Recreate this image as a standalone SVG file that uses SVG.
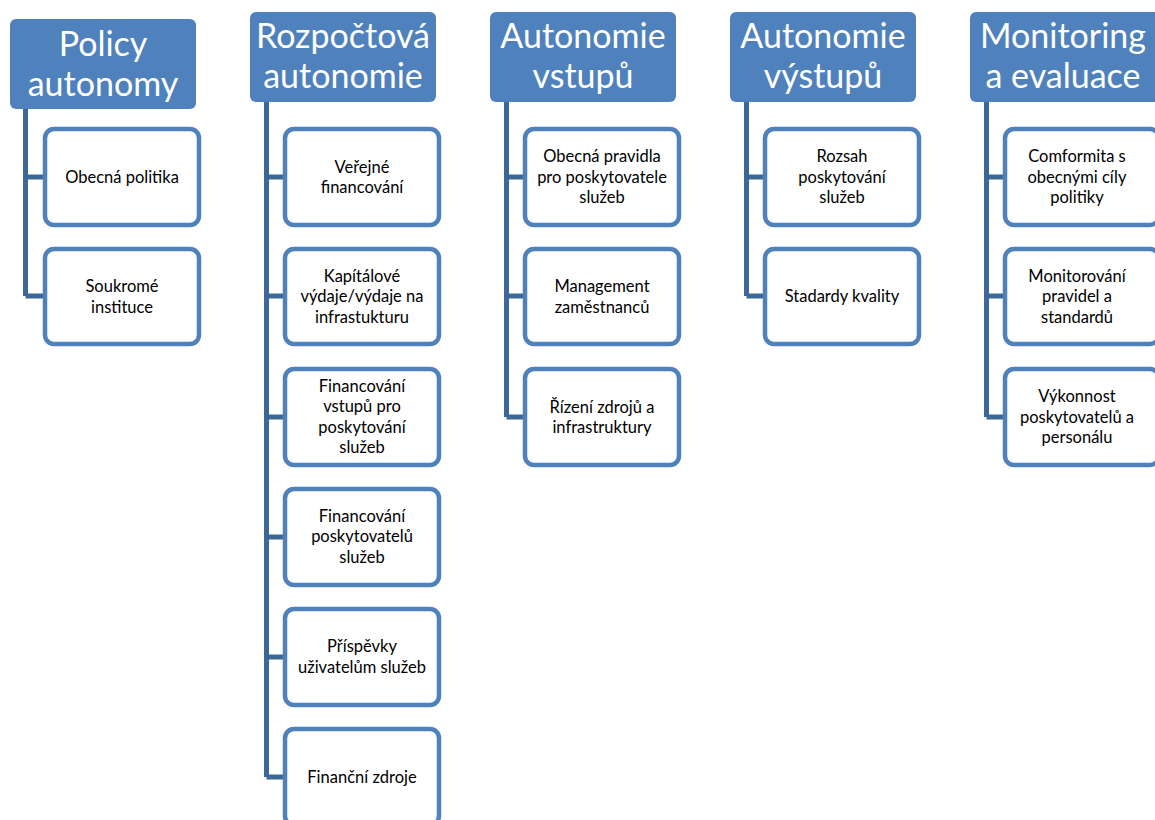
<svg xmlns="http://www.w3.org/2000/svg" width="1155" height="820" viewBox="0 0 1155 820">
  <style>
    .hdr { fill: #4f81bd; }
    .hdr-t { fill: #ffffff; font-family: Lato, "Open Sans", sans-serif; font-size: 34px; text-anchor: middle; }
    .box { fill: #ffffff; stroke: #4f81bd; stroke-width: 4.5; }
    .box-t { fill: #000000; font-family: Lato, "Open Sans", sans-serif; font-size: 16.5px; text-anchor: middle; }
    .conn { fill: none; stroke: #3d6797; stroke-width: 5; stroke-linejoin: round; }
  </style>

  <rect width="1155" height="820" fill="#ffffff"/>

  <!-- connectors: a trunk under each header with a branch to every child -->
  <g id="connectors">
    <path class="conn" d="M25.5 109 V296 M25.5 177 H45 M25.5 296 H45"/>
    <path class="conn" d="M266.5 102 V777 M266.5 177 H285 M266.5 296 H285 M266.5 417 H285 M266.5 537 H285 M266.5 657 H285 M266.5 777 H285"/>
    <path class="conn" d="M506.5 102 V417 M506.5 177 H525 M506.5 296 H525 M506.5 417 H525"/>
    <path class="conn" d="M746.5 102 V296 M746.5 177 H765 M746.5 296 H765"/>
    <path class="conn" d="M986.5 102 V417 M986.5 177 H1005 M986.5 296 H1005 M986.5 417 H1005"/>
  </g>

  <!-- column 1 -->
  <g id="policy-autonomy">
    <rect class="hdr" x="10" y="19" width="186" height="90" rx="6"/>
    <text class="hdr-t" x="103" y="56">Policy</text>
    <text class="hdr-t" x="103" y="96">autonomy</text>
  </g>
  <g id="obecna-politika">
    <rect class="box" x="45" y="129" width="154" height="96" rx="9"/>
    <text class="box-t" x="122" y="183">Obecná politika</text>
  </g>
  <g id="soukrome-instituce">
    <rect class="box" x="45" y="249" width="154" height="95" rx="9"/>
    <text class="box-t" x="122" y="292">Soukromé</text>
    <text class="box-t" x="122" y="313">instituce</text>
  </g>

  <!-- column 2 -->
  <g id="rozpoctova-autonomie">
    <rect class="hdr" x="250" y="12" width="186" height="90" rx="6"/>
    <text class="hdr-t" x="343" y="48">Rozpočtová</text>
    <text class="hdr-t" x="343" y="88">autonomie</text>
  </g>
  <g id="verejne-financovani">
    <rect class="box" x="285" y="129" width="154" height="96" rx="9"/>
    <text class="box-t" x="362" y="173">Veřejné</text>
    <text class="box-t" x="362" y="193">financování</text>
  </g>
  <g id="kapitalove-vydaje">
    <rect class="box" x="285" y="249" width="154" height="95" rx="9"/>
    <text class="box-t" x="362" y="282">Kapítálové</text>
    <text class="box-t" x="362" y="302">výdaje/výdaje na</text>
    <text class="box-t" x="362" y="323">infrastukturu</text>
  </g>
  <g id="financovani-vstupu">
    <rect class="box" x="285" y="369" width="154" height="96" rx="9"/>
    <text class="box-t" x="362" y="392">Financování</text>
    <text class="box-t" x="362" y="412">vstupů pro</text>
    <text class="box-t" x="362" y="433">poskytování</text>
    <text class="box-t" x="362" y="453">služeb</text>
  </g>
  <g id="financovani-poskytovatelu">
    <rect class="box" x="285" y="489" width="154" height="96" rx="9"/>
    <text class="box-t" x="362" y="522">Financování</text>
    <text class="box-t" x="362" y="542">poskytovatelů</text>
    <text class="box-t" x="362" y="563">služeb</text>
  </g>
  <g id="prispevky-uzivatelum">
    <rect class="box" x="285" y="609" width="154" height="96" rx="9"/>
    <text class="box-t" x="362" y="652">Příspěvky</text>
    <text class="box-t" x="362" y="673">uživatelům služeb</text>
  </g>
  <g id="financni-zdroje">
    <rect class="box" x="285" y="729" width="154" height="96" rx="9"/>
    <text class="box-t" x="362" y="783">Finanční zdroje</text>
  </g>

  <!-- column 3 -->
  <g id="autonomie-vstupu">
    <rect class="hdr" x="490" y="12" width="186" height="90" rx="6"/>
    <text class="hdr-t" x="583" y="48">Autonomie</text>
    <text class="hdr-t" x="583" y="88">vstupů</text>
  </g>
  <g id="obecna-pravidla">
    <rect class="box" x="525" y="129" width="154" height="96" rx="9"/>
    <text class="box-t" x="602" y="162">Obecná pravidla</text>
    <text class="box-t" x="602" y="183">pro poskytovatele</text>
    <text class="box-t" x="602" y="203">služeb</text>
  </g>
  <g id="management-zamestnancu">
    <rect class="box" x="525" y="249" width="154" height="95" rx="9"/>
    <text class="box-t" x="602" y="292">Management</text>
    <text class="box-t" x="602" y="313">zaměstnanců</text>
  </g>
  <g id="rizeni-zdroju">
    <rect class="box" x="525" y="369" width="154" height="96" rx="9"/>
    <text class="box-t" x="602" y="413">Řízení zdrojů a</text>
    <text class="box-t" x="602" y="433">infrastruktury</text>
  </g>

  <!-- column 4 -->
  <g id="autonomie-vystupu">
    <rect class="hdr" x="730" y="12" width="186" height="90" rx="6"/>
    <text class="hdr-t" x="823" y="48">Autonomie</text>
    <text class="hdr-t" x="823" y="88">výstupů</text>
  </g>
  <g id="rozsah-poskytovani">
    <rect class="box" x="765" y="129" width="154" height="96" rx="9"/>
    <text class="box-t" x="842" y="162">Rozsah</text>
    <text class="box-t" x="842" y="183">poskytování</text>
    <text class="box-t" x="842" y="203">služeb</text>
  </g>
  <g id="standardy-kvality">
    <rect class="box" x="765" y="249" width="154" height="95" rx="9"/>
    <text class="box-t" x="842" y="302">Stadardy kvality</text>
  </g>

  <!-- column 5 -->
  <g id="monitoring-evaluace">
    <rect class="hdr" x="970" y="12" width="190" height="90" rx="6"/>
    <text class="hdr-t" x="1063" y="48">Monitoring</text>
    <text class="hdr-t" x="1063" y="88">a evaluace</text>
  </g>
  <g id="comformita">
    <rect class="box" x="1005" y="129" width="154" height="96" rx="9"/>
    <text class="box-t" x="1077" y="162">Comformita s</text>
    <text class="box-t" x="1077" y="183">obecnými cíly</text>
    <text class="box-t" x="1077" y="203">politiky</text>
  </g>
  <g id="monitorovani-pravidel">
    <rect class="box" x="1005" y="249" width="154" height="95" rx="9"/>
    <text class="box-t" x="1077" y="282">Monitorování</text>
    <text class="box-t" x="1077" y="302">pravidel a</text>
    <text class="box-t" x="1077" y="323">standardů</text>
  </g>
  <g id="vykonnost-poskytovatelu">
    <rect class="box" x="1005" y="369" width="154" height="96" rx="9"/>
    <text class="box-t" x="1077" y="402">Výkonnost</text>
    <text class="box-t" x="1077" y="423">poskytovatelů a</text>
    <text class="box-t" x="1077" y="443">personálu</text>
  </g>
</svg>
